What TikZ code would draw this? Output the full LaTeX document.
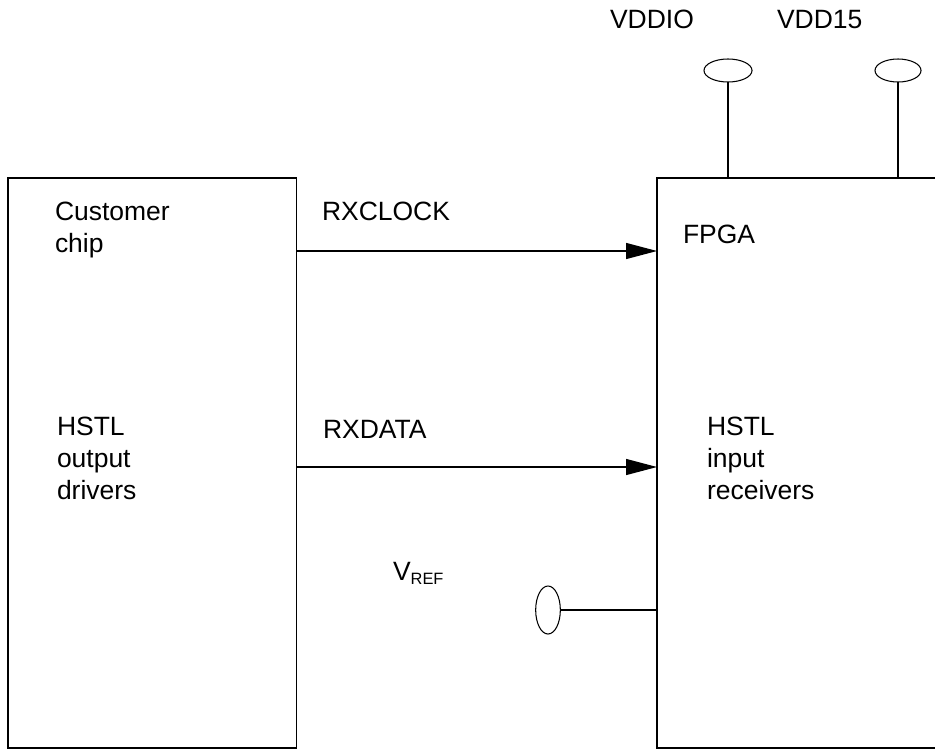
\documentclass[tikz,border=0pt]{standalone}
\usepackage{fontspec}
\setmainfont{Liberation Sans}
\usetikzlibrary{arrows.meta,shapes.geometric}

\begin{document}
\begin{tikzpicture}[x=0.03cm,y=-0.03cm,
  every node/.style={inner sep=0pt, outer sep=0pt},
  lbl/.style={anchor=base west, align=left, font=\fontsize{22.6}{27.3}\selectfont},
  chipbox/.style={draw, line width=1.1pt, minimum height=17.1cm, anchor=north west},
  pin/.style={draw, ellipse, line width=0.9pt},
  wire/.style={line width=1.1pt},
  sig/.style={wire, -{Triangle[length=0.93cm,width=0.48cm]}}]

\useasboundingbox (0,0) rectangle (935,750);

% the two chips
\node[chipbox, minimum width=8.66cm] (cust) at (8,178) {};
\node[chipbox, minimum width=9.2cm] (fpga) at (657,178) {};

% supply and reference pins
\node[pin, minimum width=1.44cm, minimum height=0.69cm] (vddiopin) at (728,70.5) {};
\node[pin, minimum width=1.38cm, minimum height=0.69cm] (vddpin) at (898,70.5) {};
\node[pin, minimum width=0.74cm, minimum height=1.44cm] (vrefpin) at (548,610) {};
\draw[wire] (vddiopin.south) -- (vddiopin.south |- fpga.north);
\draw[wire] (vddpin.south) -- (vddpin.south |- fpga.north);
\draw[wire] (vrefpin.east) -- (vrefpin.east -| fpga.west);

% signals
\draw[sig] (cust.east |- 0,251) -- (fpga.west |- 0,251);
\draw[sig] (cust.east |- 0,467) -- (fpga.west |- 0,467);

% labels (multi-line ones sit on their last baseline)
\node[lbl] (custlbl) at (55,252) {Customer\\chip};
\node[lbl] (drvlbl) at (57,499) {HSTL\\output\\drivers};
\node[lbl] (clklbl) at (322,220) {RXCLOCK};
\node[lbl] (datalbl) at (323,438) {RXDATA};
\node[lbl] (fpgalbl) at (683,243) {FPGA};
\node[lbl] (rcvlbl) at (707,499) {HSTL\\input\\receivers};
\node[lbl] (vreflbl) at (393,580) {V\raisebox{-0.12cm}{\fontsize{14}{14}\selectfont REF}};
\node[lbl] (vddiolbl) at (610,28) {VDDIO};
\node[lbl] (vddlbl) at (777,28) {VDD15};
\end{tikzpicture}
\end{document}
